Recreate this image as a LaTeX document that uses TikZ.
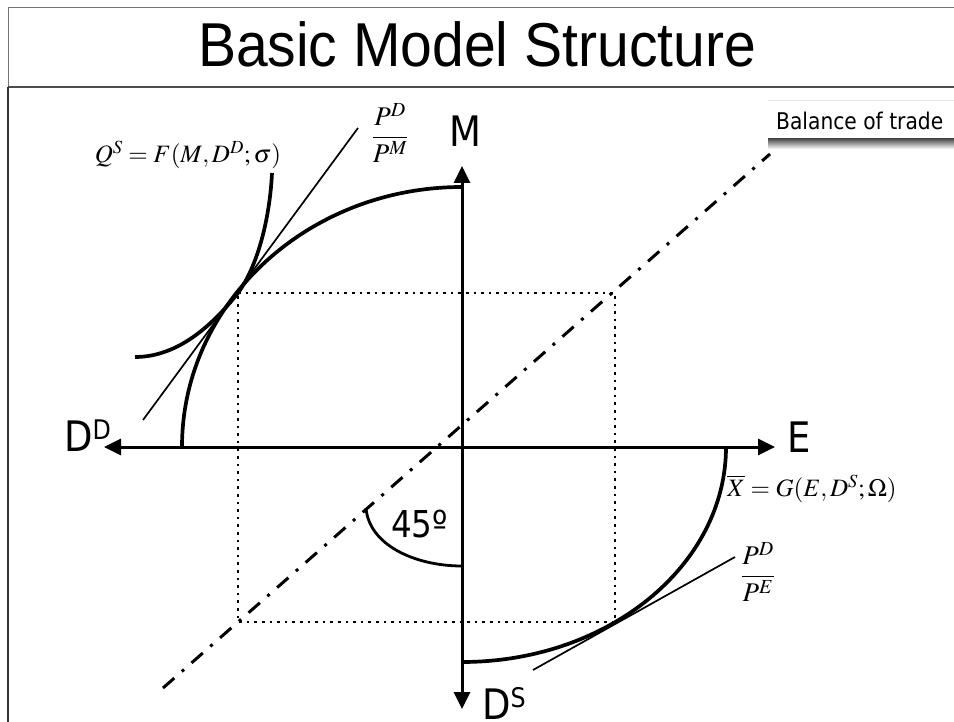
\documentclass[tikz,border=0pt]{standalone}
\usepackage{mathptmx}
\usepackage{fontspec}
\setmainfont{Liberation Serif}
\newfontfamily\titlefont[FakeStretch=0.92]{Liberation Sans}
\newfontfamily\tah[FakeStretch=0.88]{DejaVu Sans}
\usetikzlibrary{arrows.meta}
\begin{document}
\begin{tikzpicture}[x=1pt,y=-1pt,
  axis/.style={line width=3pt,{Triangle[length=17pt,width=16pt]}-{Triangle[length=17pt,width=16pt]}},
  curve/.style={line width=3.7pt},
  thinline/.style={line width=1.7pt},
  guide/.style={line width=2.6pt, dash pattern=on 2.6pt off 5pt},
  trade/.style={line width=3pt, dash pattern=on 15pt off 10pt on 3pt off 10pt},
  lab/.style={font=\tah\fontsize{42}{42}\selectfont, inner sep=0pt, anchor=base west},
  eq/.style={font=\fontsize{25}{30}\selectfont, inner sep=0pt}
]
\fill[white] (0,0) rectangle (954,722);
\useasboundingbox (0,0) rectangle (954,722);
% frame
\draw[black!55, line width=1pt] (8,87) -- (8,8) -- (954,8);
\draw[black!70, line width=1.5pt] (8,87) -- (954,87);
\draw[black!80, line width=2pt] (8,87) -- (8,722);
\node[font=\titlefont\fontsize{62}{62}\selectfont, anchor=base, inner sep=0pt] (title) at (477,67) {Basic Model Structure};
% key points
\coordinate (O) at (462,447);
\coordinate (Mtop) at (462,166);
\coordinate (Dsb) at (462,709);
\coordinate (Eend) at (775,447);
\coordinate (DDend) at (104,447);
\coordinate (A) at (238,293);
\coordinate (B) at (615,293);
\coordinate (C) at (615,622);
\coordinate (D) at (238,622);
\coordinate (T1) at (163,688);
\coordinate (T2) at (770,154);
% dotted rectangle
\draw[guide] (A) -- (B) -- (C) -- (D) -- cycle;
% balance of trade line
\draw[trade] (T1) -- (T2);
% axes
\draw[axis] (Dsb) -- (Mtop);
\draw[axis] (DDend) -- (Eend);
% transformation curve (top-left)
\coordinate (P1) at (182,447);
\coordinate (P2) at (462,187);
\draw[curve] (P1) .. controls (182,303.4) and (307.4,187) .. (P2);
% bottom-right curve
\coordinate (R1) at (726,447);
\coordinate (R2) at (462,662);
\draw[curve] (R1) .. controls (726,565.7) and (607.8,662) .. (R2);
% isoquant
\coordinate (Q1) at (135,357);
\coordinate (Q2) at (272,173);
\draw[curve] (Q1) .. controls (180,357) and (215,322) .. (A) .. controls (259,264) and (270,215) .. (Q2);
% tangents
\coordinate (L1) at (143,420);
\coordinate (L2) at (358,128);
\draw[thinline] (L1) -- (L2);
\coordinate (K1) at (533,670);
\coordinate (K2) at (735,557);
\draw[thinline] (K1) -- (K2);
% 45 degree arc
\coordinate (G1) at (366,508);
\coordinate (G2) at (462,566);
\draw[line width=2.8pt] (G1) .. controls (369,545) and (415,566) .. (G2);
% labels
\node[lab] (M) at (449,147) {M};
\node[lab] (E) at (787,452) {E};
\node[lab] (DD) at (64,451) {D\raisebox{12pt}{\fontsize{27}{27}\selectfont D}};
\node[lab] (DS) at (482,719) {D\raisebox{12pt}{\fontsize{27}{27}\selectfont S}};
\node[lab, font=\tah\fontsize{37}{37}\selectfont] (deg) at (391,537) {45º};
% balance of trade box
\shade[top color=black!75,bottom color=white] (768,138) rectangle (954,149);
\fill[white] (768,100) rectangle (954,138);
\draw[black!10] (768,100) -- (954,100);
\node[font=\tah\fontsize{23}{23}\selectfont, anchor=base west, inner sep=0pt] (bot) at (776,130) {Balance of trade};
% equations
\node[eq] (Qs) at (188,155) {$Q^{S}=F(M,D^{D};\sigma)$};
\node[eq, font=\fontsize{27}{32}\selectfont] (pm) at (390,133) {$\displaystyle\frac{P^{D}}{P^{M}}$};
\node[eq] (xg) at (812,489) {$\overline{X}=G(E,D^{S};\Omega)$};
\node[eq, font=\fontsize{27}{32}\selectfont] (pe) at (758,572) {$\displaystyle\frac{P^{D}}{P^{E}}$};
\end{tikzpicture}
\end{document}
